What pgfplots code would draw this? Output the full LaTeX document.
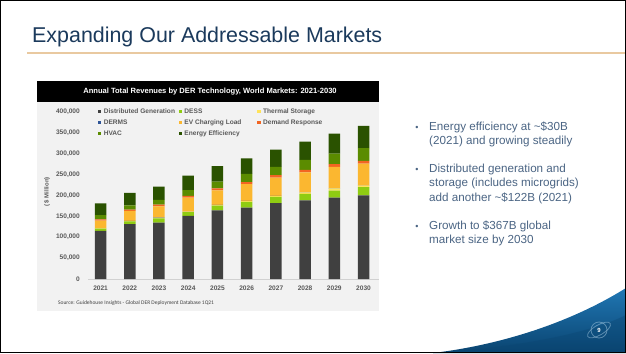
\documentclass[border=0pt]{standalone}
\usepackage{pgfplots}
\pgfplotsset{compat=1.18}
\usepackage{pgfplotstable}
\usepackage{fontspec}
\setmainfont{Liberation Sans}
\newfontfamily\carlito{Carlito}
\definecolor{cDG}{HTML}{404040}
\definecolor{cDESS}{HTML}{8FCC12}
\definecolor{cTS}{HTML}{FFE35B}
\definecolor{cDERMS}{HTML}{2F5597}
\definecolor{cEV}{HTML}{FBB730}
\definecolor{cDR}{HTML}{F26522}
\definecolor{cHVAC}{HTML}{5B8C00}
\definecolor{cEE}{HTML}{2A5200}
\definecolor{chartgrey}{HTML}{595959}
\definecolor{chartbg}{HTML}{F2F2F2}
\definecolor{titleblue}{HTML}{1B3A5C}
\definecolor{bullettext}{HTML}{4B6584}
\definecolor{tanline}{HTML}{E9C9A0}
\definecolor{wedgelight}{HTML}{2077B4}
\definecolor{wedgedark}{HTML}{0A4470}

\pgfplotstableread{
yr DG DESS TS DERMS EV DR HVAC EE
0 115000 5500 1000 300 17500 3200 10300 27800
1 131000 6500 1000 300 24000 3200 10300 29400
2 135000 10000 1200 300 27300 4000 11100 31700
3 150800 9000 1200 300 33000 4700 13500 34900
4 164300 11000 1500 400 34500 4800 16600 36500
5 170700 14000 1500 400 40000 4800 20000 37200
6 181700 14500 2000 400 44000 5700 19700 41300
7 188000 15500 3500 500 47600 5700 23800 43600
8 194500 17000 5000 500 51000 6500 25300 47500
9 200000 19500 3500 500 52600 6400 30300 53400
}\datatable

\begin{document}
\begin{tikzpicture}[x=1bp,y=1bp]
\useasboundingbox (0,0) rectangle (626,353);
\fill[white] (0,0) rectangle (626,353);

% slide title
\node[anchor=base west, inner sep=0pt, text=titleblue, font=\fontsize{21.5}{25}\selectfont] at (32,310.3) {Expanding Our Addressable Markets};
\draw[tanline, line width=1.8bp] (27,300) -- (626,300);

% chart panel
\fill[chartbg] (37,42) rectangle (379,251);
\fill[black] (37,251) rectangle (379,272);
\node[text=white, font=\bfseries\fontsize{7.6}{8.5}\selectfont, inner sep=0pt] at (210,261.5) {Annual Total Revenues by DER Technology, World Markets: 2021-2030};
\node[anchor=west, inner sep=0pt, text=black!75, font=\carlito\fontsize{5.5}{6.5}\selectfont] at (58,50.3) {Source: Guidehouse Insights - Global DER Deployment Database 1Q21};

\begin{axis}[
  at={(88bp,74bp)}, anchor=south west,
  width=291bp, height=167.3bp, scale only axis,
  ybar stacked, bar width=11.5bp,
  legend image code/.code={\fill[#1, draw=none] (0bp,-1.6bp) rectangle (3.2bp,1.6bp);},
  xmin=-0.43, xmax=9.53, ymin=0, ymax=400000,
  xtick={0,...,9}, xticklabels={2021,2022,2023,2024,2025,2026,2027,2028,2029,2030},
  ytick={0,50000,100000,150000,200000,250000,300000,350000,400000},
  scaled y ticks=false,
  yticklabel style={/pgf/number format/fixed, /pgf/number format/1000 sep={,}, inner sep=0pt, xshift=-8bp},
  xticklabel style={inner sep=0pt, yshift=-6.5bp},
  /pgf/number format/assume math mode=true,
  tick label style={font=\bfseries\fontsize{6.6}{7}\selectfont, text=chartgrey},
  major tick length=0pt,
  axis x line*=bottom, axis y line*=left,
  x axis line style={draw=black!18, line width=0.6bp},
  y axis line style={draw=none},
  ylabel={( \$ Million)},
  ylabel style={font=\bfseries\fontsize{6}{7}\selectfont, text=chartgrey, at={(axis description cs:-0.141,0.52)}, anchor=center},
  legend columns=3,
  legend style={at={(0.034,1.022)}, anchor=north west, draw=none, fill=none, inner sep=0pt,
    font=\bfseries\fontsize{6.6}{7.5}\selectfont, text=chartgrey, column sep=0pt, row sep=3.5bp,
    nodes={inner sep=0.5bp, text height=5bp, text depth=1.3bp},
    /tikz/every odd column/.append style={column sep=2bp}},
]
\addplot[fill=cDG, draw=none] table[x=yr, y=DG]{\datatable};
\addlegendentry{\makebox[74.5bp][l]{Distributed Generation}}
\addplot[fill=cDESS, draw=none] table[x=yr, y=DESS]{\datatable};
\addlegendentry{\makebox[72.5bp][l]{DESS}}
\addplot[fill=cTS, draw=none] table[x=yr, y=TS]{\datatable};
\addlegendentry{\makebox[72bp][l]{Thermal Storage}}
\addplot[fill=cDERMS, draw=none] table[x=yr, y=DERMS]{\datatable};
\addlegendentry{\makebox[74.5bp][l]{DERMS}}
\addplot[fill=cEV, draw=none] table[x=yr, y=EV]{\datatable};
\addlegendentry{\makebox[72.5bp][l]{EV Charging Load}}
\addplot[fill=cDR, draw=none] table[x=yr, y=DR]{\datatable};
\addlegendentry{\makebox[72bp][l]{Demand Response}}
\addplot[fill=cHVAC, draw=none] table[x=yr, y=HVAC]{\datatable};
\addlegendentry{\makebox[74.5bp][l]{HVAC}}
\addplot[fill=cEE, draw=none] table[x=yr, y=EE]{\datatable};
\addlegendentry{\makebox[72.5bp][l]{Energy Efficiency}}
\end{axis}

% bullets
\begin{scope}[every node/.style={inner sep=0pt, text=bullettext, font=\fontsize{11.7}{14}\selectfont}]
\node[anchor=mid] at (417,224.7) {\fontsize{9}{10}\selectfont •};
\node[anchor=mid west] at (429,224.7) {Energy efficiency at \textasciitilde\$30B};
\node[anchor=mid west] at (429,210.7) {(2021) and growing steadily};
\node[anchor=mid] at (417,183) {\fontsize{9}{10}\selectfont •};
\node[anchor=mid west] at (429,183) {Distributed generation and};
\node[anchor=mid west] at (429,169) {storage (includes microgrids)};
\node[anchor=mid west] at (429,154.3) {add another \textasciitilde\$122B (2021)};
\node[anchor=mid] at (417,126.3) {\fontsize{9}{10}\selectfont •};
\node[anchor=mid west] at (429,126.3) {Growth to \$367B global};
\node[anchor=mid west] at (429,112.3) {market size by 2030};
\end{scope}

% bottom-right wedge
\shade[top color=wedgelight, bottom color=wedgedark] (433,0) .. controls (500,8) and (570,30) .. (626,65) -- (626,0) -- cycle;
\fill[wedgedark, opacity=0.35] (433,0) .. controls (520,6) and (590,20) .. (626,38) -- (626,0) -- cycle;
\draw[white!60!wedgelight, opacity=0.5, line width=0.8bp] (599,23) circle (8);
\draw[white!60!wedgelight, opacity=0.5, line width=0.8bp, rotate around={30:(599,23)}] (599,23) ellipse (13 and 5);
\node[text=white, font=\bfseries\fontsize{6}{7}\selectfont, inner sep=0pt] at (599,23) {9};

% border
\draw[black, line width=1.2bp] (0.6,0.6) rectangle (625.4,352.4);
\end{tikzpicture}
\end{document}
